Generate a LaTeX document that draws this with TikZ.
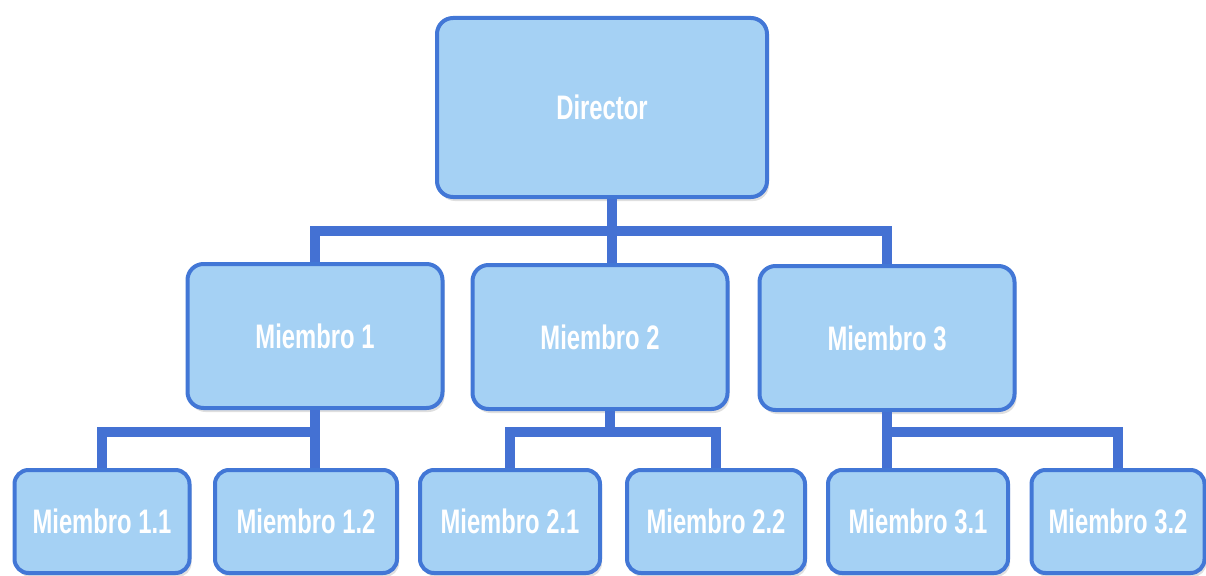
\documentclass[tikz,border=0pt]{standalone}
\usepackage{fontspec}
\usepackage{tikz}
\usetikzlibrary{shadows}
\newfontfamily\orgfont[FakeStretch=0.7]{Liberation Sans}
\definecolor{boxfill}{HTML}{A5D1F4}
\definecolor{boxline}{HTML}{4277D6}
\definecolor{linkblue}{HTML}{4471D3}

\begin{document}
\begin{tikzpicture}[x=1pt,y=-1pt,
        member/.style={draw=boxline,fill=boxfill,line width=4pt,rounded corners=16pt,
            inner sep=0pt,minimum width=255pt,minimum height=144pt,
            text=white,font=\orgfont\bfseries\fontsize{34}{38}\selectfont,
            drop shadow={opacity=0.25,shadow xshift=2pt,shadow yshift=-4pt}},
        leaf/.style={member,rounded corners=14pt,minimum width=178pt,minimum height=103pt},
        link/.style={draw=linkblue,line width=10pt,line join=miter}]
        \useasboundingbox (0,0) rectangle (1206,575);

        % top level
        \node[member,minimum width=330pt,minimum height=179pt] (dir) at (602,107.5) {Director};

        % second level
        \node[member] (m1) at (315,336) {Miembro 1};
        \node[member] (m2) at (600,337) {Miembro 2};
        \node[member] (m3) at (887,338) {Miembro 3};

        % third level
        \node[leaf,minimum width=175pt] (m11) at (102,521.5) {Miembro 1.1};
        \node[leaf,minimum width=182pt] (m12) at (306,521.5) {Miembro 1.2};
        \node[leaf,minimum width=180pt] (m21) at (510,521.5) {Miembro 2.1};
        \node[leaf] (m22) at (716,521.5) {Miembro 2.2};
        \node[leaf,minimum width=180pt] (m31) at (918,521.5) {Miembro 3.1};
        \node[leaf,minimum width=173pt] (m32) at (1118,521.5) {Miembro 3.2};

        \coordinate (bar0) at (0,231);
        \coordinate (bar1) at (0,432);

        % director to members
        \draw[link] ([xshift=10pt]dir.south) -- ([xshift=10pt]dir.south |- m2.north);
        \draw[link] (m1.north) -- (m1.north |- bar0) -- (m3.north |- bar0) -- (m3.north);

        % members to sub-members
        \draw[link] (m1.south) -- (m1.south |- m12.north);
        \draw[link] (m11.north) -- (m11.north |- bar1) -- (m1.south |- bar1);
        \draw[link] ([xshift=10pt]m2.south) -- ([xshift=10pt]m2.south |- bar1);
        \draw[link] (m21.north) -- (m21.north |- bar1) -- (m22.north |- bar1) -- (m22.north);
        \draw[link] (m3.south) -- (m3.south |- m31.north);
        \draw[link] (m3.south |- bar1) -- (m32.north |- bar1) -- (m32.north);
\end{tikzpicture}
\end{document}
